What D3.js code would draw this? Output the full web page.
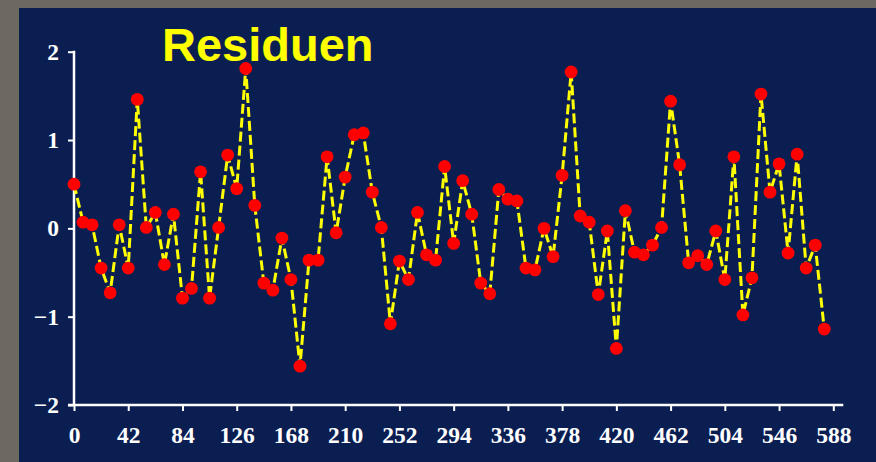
<!DOCTYPE html>
<html>
<head>
<meta charset="utf-8">
<script src="https://cdn.jsdelivr.net/npm/d3@7"></script>
<style>
	html, body { margin:0; padding:0; background:#6d6961; }
	.ResidAxis text { font-family:"Liberation Serif", serif; font-weight:bold; font-size:23.5px; fill:#ffffff; }
	.ResidAxis line { stroke:#ffffff; stroke-width:2; }
</style>
</head>
<body>
<div id="idResiduen"></div>
<script>
// x positions of the residuals (every 7th observation)
var aXValues=[0,7,14,21,28,35,42,49,56,63,70,77,84,91,98,105,112,119,126,133,140,147,154,161,168,175,
	182,189,196,203,210,217,224,231,238,245,252,259,266,273,280,287,294,301,308,315,322,329,336,343,350,357,
	364,371,378,385,392,399,406,413,420,427,434,441,448,455,462,469,476,483,490,497,504,511,518,525,532,539,
	546,553,560,567,574,581];
var aResiduals=[0.50,0.07,0.04,-0.45,-0.73,0.04,-0.45,1.46,0.01,0.18,-0.41,0.16,-0.79,-0.68,0.64,-0.79,0.01,0.83,0.45,1.81,
	0.26,-0.62,-0.70,-0.11,-0.58,-1.56,-0.36,-0.36,0.81,-0.05,0.58,1.06,1.08,0.41,0.01,-1.08,-0.37,-0.58,0.18,-0.30,
	-0.36,0.70,-0.17,0.54,0.16,-0.62,-0.74,0.44,0.33,0.31,-0.45,-0.47,0.00,-0.32,0.60,1.77,0.14,0.07,-0.75,-0.03,
	-1.36,0.20,-0.27,-0.30,-0.19,0.01,1.44,0.72,-0.39,-0.31,-0.41,-0.03,-0.58,0.81,-0.98,-0.56,1.52,0.41,0.73,-0.28,
	0.84,-0.45,-0.19,-1.14];
var aXTicks=[0,42,84,126,168,210,252,294,336,378,420,462,504,546,588];
var aYTicks=[-2,-1,0,1,2];
var sTitle="Residuen";

var iWidth=876;
var iHeight=462;

var myCanvas=d3.select("#idResiduen").append("svg")
	.attr("width",iWidth)
	.attr("height",iHeight)
	.style("display","block");

// grey frame and the dark blue slide panel
myCanvas.append("rect").attr("width",iWidth).attr("height",iHeight).attr("fill","#6d6961");
myCanvas.append("rect").attr("x",19).attr("y",8).attr("width",iWidth-19).attr("height",iHeight-8).attr("fill","#0a1e52");

var xAxes=d3.scaleLinear().domain([0,588]).range([74,833.3]);
var yAxes=d3.scaleLinear().domain([-2,2]).range([405,51.7]);

var myXAxis=myCanvas.append("g")
	.attr("class","ResidAxis")
	.attr("transform","translate(0,"+yAxes(-2)+")")
	.call(d3.axisBottom(xAxes).tickValues(aXTicks).tickSize(6).tickSizeOuter(0).tickFormat(d3.format("d")));
myXAxis.select(".domain").remove();
myXAxis.selectAll("text").attr("y",21).attr("dy","0.71em");

var myYAxis=myCanvas.append("g")
	.attr("class","ResidAxis")
	.attr("transform","translate("+xAxes(0)+",0)")
	.call(d3.axisLeft(yAxes).tickValues(aYTicks).tickSize(6).tickSizeOuter(0).tickFormat(d3.format("d")));
myYAxis.select(".domain").remove();
myYAxis.selectAll("text").attr("x",-15).attr("dy","0.32em");

// axis lines: x line runs a bit past the last tick
myCanvas.append("line")
	.attr("x1",xAxes(0)-6).attr("x2",xAxes(588)+10)
	.attr("y1",yAxes(-2)).attr("y2",yAxes(-2))
	.attr("stroke","#ffffff").attr("stroke-width",2.5);
myCanvas.append("line")
	.attr("x1",xAxes(0)).attr("x2",xAxes(0))
	.attr("y1",yAxes(2)-1).attr("y2",yAxes(-2))
	.attr("stroke","#ffffff").attr("stroke-width",2.5);

var myLine=d3.line()
	.x(function(d,i) { return xAxes(aXValues[i]); })
	.y(function(d) { return yAxes(d); });

myCanvas.append("path")
	.datum(aResiduals)
	.attr("d",myLine)
	.attr("fill","none")
	.attr("stroke","#ffff00")
	.attr("stroke-width",3)
	.attr("stroke-dasharray","10,4");

myCanvas.selectAll(".ResidPoints")
	.data(aResiduals)
	.enter().append("circle")
	.attr("class","ResidPoints")
	.attr("cx",function(d,i) { return xAxes(aXValues[i]); })
	.attr("cy",function(d) { return yAxes(d); })
	.attr("r",6.4)
	.attr("fill","#ff0000");

myCanvas.append("text")
	.text(sTitle)
	.attr("x",162)
	.attr("y",61)
	.attr("font-family","'Liberation Sans', Arial, sans-serif")
	.attr("font-weight","bold")
	.attr("font-size",47)
	.attr("fill","#ffff00");
</script>
</body>
</html>
